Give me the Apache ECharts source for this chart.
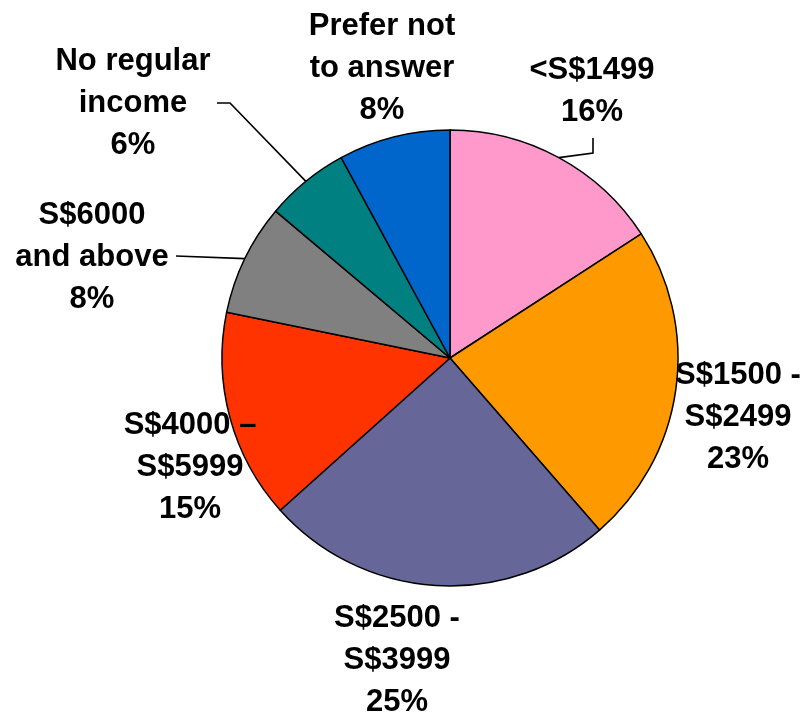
<!DOCTYPE html>
<html>
<head>
<meta charset="utf-8">
<script src="https://cdn.jsdelivr.net/npm/echarts@6/dist/echarts.min.js"></script>
<style>
html,body{margin:0;padding:0;background:#fff;}
#chart{width:810px;height:715px;}
</style>
</head>
<body>
<div id="chart"></div>
<script>
// Data
const categories = ["<S$1499", "S$1500 -\nS$2499", "S$2500 -\nS$3999", "S$4000 –\nS$5999", "S$6000\nand above", "No regular\nincome", "Prefer not\nto answer"];
const percents = [16, 23, 25, 15, 8, 6, 8];
const sliceColors = ["#FF99CC", "#FF9900", "#666699", "#FF3300", "#808080", "#008080", "#0066CC"];
const hasLeader = [true, false, false, false, true, true, false];

// Layout (label block centres and leader-line bends), not data
const labelPos = [[592, 91], [738, 417], [397, 660], [190, 467], [92, 257], [133, 103], [382, 68]];
const leaderTail = [
  [[593, 153], [593, 138]],
  null, null, null,
  [[176, 256]],
  [[230, 103], [217, 103]],
  null
];

const chart = echarts.init(document.getElementById('chart'), null, {renderer: 'canvas'});
const option = {
  animation: false,
  backgroundColor: '#fff',
  series: [{
    type: 'pie',
    center: [450, 358],
    radius: 228,
    startAngle: 90,
    clockwise: true,
    avoidLabelOverlap: false,
    emphasis: {disabled: true},
    itemStyle: {borderColor: '#000', borderWidth: 1.5},
    label: {
      show: true,
      position: 'outside',
      formatter: '{b}\n{c}%',
      color: '#000',
      fontFamily: '"Liberation Sans", Arial, sans-serif',
      fontWeight: 'bold',
      fontSize: 31,
      lineHeight: 42,
      align: 'center'
    },
    labelLine: {show: true, length: 10, length2: 10, lineStyle: {color: '#000', width: 1.6}},
    labelLayout: function (params) {
      const i = params.dataIndex;
      const p = labelPos[i];
      const res = {x: p[0], y: p[1], align: 'center', verticalAlign: 'middle'};
      if (hasLeader[i] && params.labelLinePoints) {
        const start = params.labelLinePoints[0];
        res.labelLinePoints = [start].concat(leaderTail[i]);
      }
      return res;
    },
    data: categories.map((c, i) => ({
      name: c,
      value: percents[i],
      itemStyle: {color: sliceColors[i]},
      labelLine: {show: hasLeader[i]}
    }))
  }]
};
chart.setOption(option);
</script>
</body>
</html>
